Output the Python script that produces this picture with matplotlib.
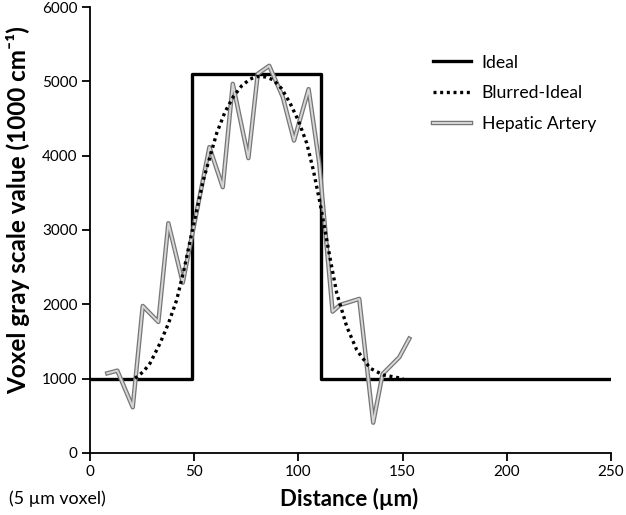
import matplotlib
matplotlib.use('Agg')
import matplotlib.pyplot as plt
import matplotlib.patheffects as pe

plt.rcParams['font.family'] = ['Lato', 'DejaVu Sans']

# Ideal step profile
ideal_x = [0, 49, 49, 111, 111, 250]
ideal_y = [1000, 1000, 5100, 5100, 1000, 1000]

# Blurred-ideal profile
blur_x = [21.6, 25.6, 28.8, 33.6, 37.6, 41.6, 45.2, 48.8, 54.4, 60.8, 64.8, 68.8,
          72.8, 76.8, 80.0, 84.0, 88.0, 92.0, 96.0, 100.0, 104.0, 107.2, 110.4,
          115.2, 118.4, 123.2, 128.0, 134.4, 140.7, 150.3]
blur_y = [1005, 1094, 1207, 1476, 1740, 2059, 2480, 2957, 3674, 4303, 4590, 4795,
          4940, 5030, 5065, 5060, 5020, 4900, 4707, 4470, 4168, 3800, 3360,
          2620, 2150, 1700, 1386, 1140, 1050, 1000]

# Hepatic artery measured profile
art_x = [8.3, 13.1, 20.5, 25.3, 32.8, 37.6, 44.5, 57.3, 63.7, 68.5, 76.0, 80.5,
         86.0, 92.5, 97.9, 104.9, 110.0, 116.4, 120.0, 129.2, 135.9, 140.4, 148.4, 153.2]
art_y = [1072, 1108, 615, 1978, 1763, 3091, 2292, 4115, 3576, 4966, 3967, 5101,
         5209, 4790, 4203, 4895, 3899, 1902, 1992, 2073, 408, 1063, 1288, 1538]

fig = plt.figure(figsize=(6.26, 5.15), dpi=100)
ax = fig.add_axes([0.1438, 0.1204, 0.976 - 0.1438, 0.9864 - 0.1204])

ax.plot(art_x, art_y, color='#d6d6d6', linewidth=1.4, solid_joinstyle='round',
        path_effects=[pe.Stroke(linewidth=3.2, foreground='#767676'), pe.Normal()],
        label='Hepatic Artery', zorder=3)
ax.plot(ideal_x, ideal_y, color='black', linewidth=2.4, label='Ideal', zorder=2)
ax.plot(blur_x, blur_y, color='black', linewidth=2.4, linestyle=(0, (0.9, 1.1)),
        label='Blurred-Ideal', zorder=4)

ax.set_xlim(0, 250)
ax.set_ylim(0, 6000)
ax.set_xticks([0, 50, 100, 150, 200, 250])
ax.set_yticks([0, 1000, 2000, 3000, 4000, 5000, 6000])

ax.spines['top'].set_visible(False)
ax.spines['right'].set_visible(False)
for s in ['left', 'bottom']:
    ax.spines[s].set_linewidth(1.3)
ax.tick_params(direction='out', length=6, width=1.3, labelsize=11, pad=3)

fig.text(0.029, 0.592, 'Voxel gray scale value (1000 cm\u207b\u00b9)', fontsize=17.5,
         fontweight='bold', rotation=90, ha='center', va='center')
fig.text(0.5575, 0.031, 'Distance (\u00b5m)', fontsize=16, fontweight='bold',
         ha='center', va='center')
fig.text(0.015, 0.031, '(5 \u00b5m voxel)', fontsize=12.8, ha='left', va='center')

handles, labels = ax.get_legend_handles_labels()
order = [1, 2, 0]
ax.legend([handles[i] for i in order], [labels[i] for i in order],
          loc='upper left', bbox_to_anchor=(0.666, 0.925), bbox_transform=fig.transFigure,
          frameon=False, fontsize=12.7, handlelength=2.15, labelspacing=0.85,
          handletextpad=0.63)

fig.savefig('out.png', dpi=100)
